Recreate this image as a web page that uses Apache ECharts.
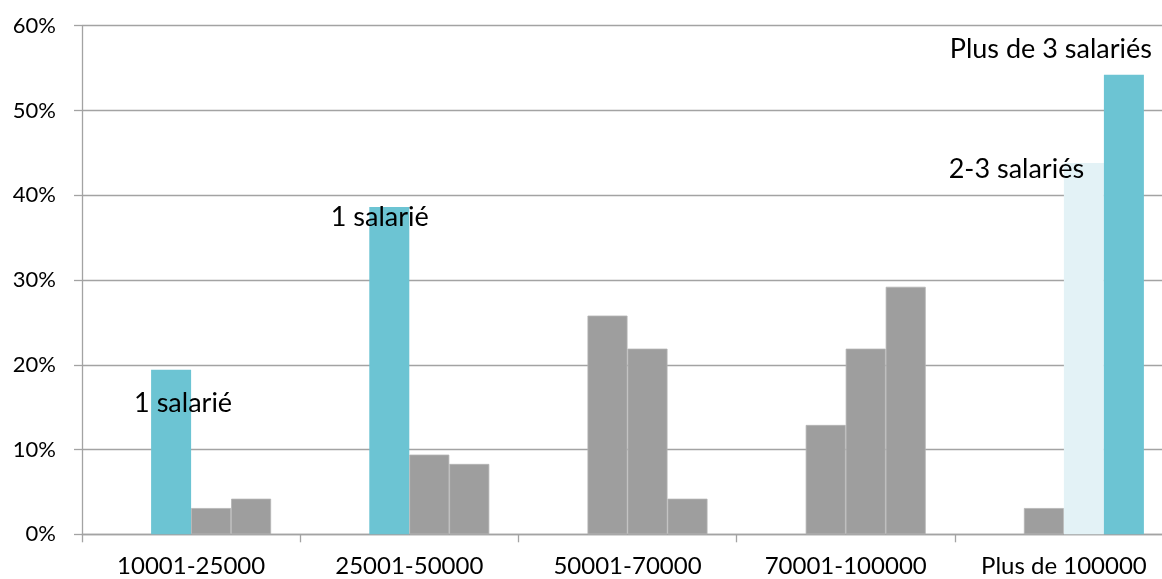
<!DOCTYPE html>
<html>
<head>
<meta charset="utf-8">
<style>
  html, body { margin: 0; padding: 0; background: #ffffff; overflow: hidden; }
  #chart { width: 1176px; height: 579px; }
</style>
<script src="https://cdn.jsdelivr.net/npm/echarts@6/dist/echarts.min.js"></script>
</head>
<body>
<div id="chart"></div>
<script>
// Tranches de revenu (axe des catégories)
const categories = ['10001-25000', '25001-50000', '50001-70000', '70001-100000', 'Plus de 100000'];

// Part des foyers (%) par nombre de salariés
const unSalarie = [19.4, 38.6, 25.8, 12.9, 3.1];
const deuxTroisSalaries = [3.1, 9.4, 21.9, 21.9, 43.8];
const plusDeTroisSalaries = [4.2, 8.3, 4.2, 29.2, 54.2];

// Graduations de l'axe vertical
const yTicks = [0, 10, 20, 30, 40, 50, 60];

const BLUE = '#6cc4d3';
const PALE = '#e3f2f6';
const GREY = '#9e9e9e';
const FONT = 'Lato, "Open Sans", sans-serif';

// colour of each bar, and which bars carry the series name as a label
const colours = {
  un: [BLUE, BLUE, GREY, GREY, GREY],
  deux: [GREY, GREY, GREY, GREY, PALE],
  plus: [GREY, GREY, GREY, GREY, BLUE]
};
const labelPos = {
  un: { 0: [32, 33], 1: [10.5, 10] },
  deux: { 4: [-47.5, 6.7] },
  plus: { 4: [-53, -25.7] }
};

function buildData(values, key) {
  return values.map((v, i) => {
    const c = colours[key][i];
    const item = {
      value: v,
      itemStyle: {
        color: c,
        borderColor: c === GREY ? '#b4b4b4' : c,
        borderWidth: c === GREY ? 0.8 : 0
      }
    };
    if (labelPos[key][i]) {
      item.label = {
        show: true,
        position: labelPos[key][i],
        align: 'center',
        verticalAlign: 'middle',
        formatter: '{a}',
        color: '#000',
        fontFamily: FONT,
        fontSize: 27
      };
    }
    return item;
  });
}

const chart = echarts.init(document.getElementById('chart'), null, { renderer: 'canvas' });

const axisGrey = { color: '#a3a3a3', width: 1.3 };

chart.setOption({
  animation: false,
  backgroundColor: '#ffffff',
  grid: { left: 82, top: 25.7, width: 1091, height: 508.6, containLabel: false },
  xAxis: {
    type: 'category',
    data: categories,
    axisLine: { lineStyle: axisGrey },
    axisTick: { show: true, length: 8, alignWithLabel: false, lineStyle: axisGrey },
    axisLabel: { color: '#000', fontFamily: FONT, fontSize: 24, margin: 20 }
  },
  yAxis: {
    type: 'value',
    min: yTicks[0],
    max: yTicks[yTicks.length - 1],
    interval: yTicks[1] - yTicks[0],
    axisLine: { show: true, lineStyle: axisGrey },
    axisTick: { show: true, length: 8, lineStyle: axisGrey },
    splitLine: { show: true, lineStyle: axisGrey },
    axisLabel: { color: '#000', fontFamily: FONT, fontSize: 22, margin: 26, formatter: '{value}%' }
  },
  series: [
    // empty leading series: reserves the first bar slot in each group
    { name: '', type: 'bar', barWidth: 40, barGap: '0%', data: categories.map(() => null), silent: true },
    { name: '1 salarié', type: 'bar', barWidth: 40, barGap: '0%', data: buildData(unSalarie, 'un') },
    { name: '2-3 salariés', type: 'bar', barWidth: 40, barGap: '0%', data: buildData(deuxTroisSalaries, 'deux') },
    { name: 'Plus de 3 salariés', type: 'bar', barWidth: 40, barGap: '0%', data: buildData(plusDeTroisSalaries, 'plus') }
  ]
});
</script>
</body>
</html>
